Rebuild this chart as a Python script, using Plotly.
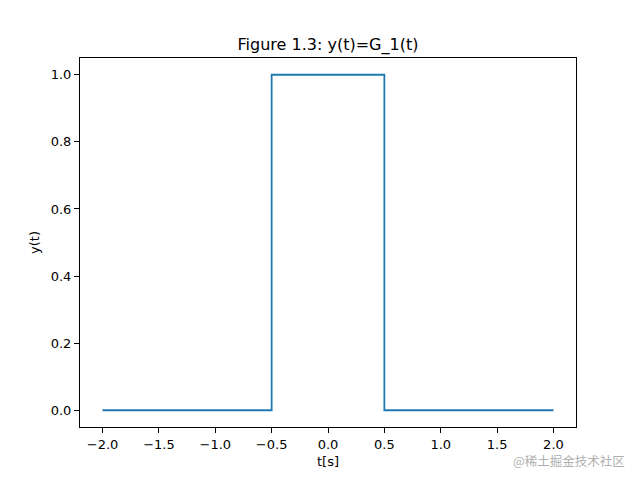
import plotly.graph_objects as go

t = [-2.0, -0.5, -0.5, 0.5, 0.5, 2.0]
y = [0, 0, 1, 1, 0, 0]

x_ticks = [-2.0, -1.5, -1.0, -0.5, 0.0, 0.5, 1.0, 1.5, 2.0]
x_labels = ["\u22122.0", "\u22121.5", "\u22121.0", "\u22120.5", "0.0", "0.5", "1.0", "1.5", "2.0"]
y_ticks = [0.0, 0.2, 0.4, 0.6, 0.8, 1.0]
y_labels = ["0.0", "0.2", "0.4", "0.6", "0.8", "1.0"]

fig = go.Figure()
fig.add_trace(go.Scatter(x=t, y=y, mode="lines",
                         line=dict(color="#1f77b4", width=1.8, shape="linear")))

axis_common = dict(showgrid=False, zeroline=False, showline=True, linecolor="black",
                   linewidth=1, mirror=True, ticks="outside", ticklen=5, tickwidth=1,
                   tickcolor="black", tickfont=dict(family="DejaVu Sans", size=13, color="black"))

# page body has an 8px margin, so the figure is sized/positioned to compensate
fig.update_layout(
    width=632, height=472,
    margin=dict(l=72, r=64, t=50, b=53),
    paper_bgcolor="white", plot_bgcolor="white",
    showlegend=False,
    title=dict(text="Figure 1.3: y(t)=G_1(t)", x=(328 - 8) / 632, xanchor="center", y=1 - 36/472,
               yanchor="middle", font=dict(family="DejaVu Sans", size=16, color="black")),
    xaxis=dict(range=[-2.2, 2.2], tickvals=x_ticks, ticktext=x_labels,
               title=dict(text="t[s]", font=dict(family="DejaVu Sans", size=13, color="black"), standoff=6),
               **axis_common),
    yaxis=dict(range=[-0.05, 1.05], tickvals=y_ticks, ticktext=y_labels,
               title=dict(text="y(t)", font=dict(family="DejaVu Sans", size=13, color="black"), standoff=8),
               **axis_common),
)

fig.add_annotation(text="@稀土掘金技术社区", xref="paper", yref="paper",
                   x=(626 - 80) / 496, y=-(460 - 427) / 369, xanchor="right", yanchor="middle",
                   borderpad=0, showarrow=False,
                   font=dict(family="Noto Sans CJK SC", size=12.5, color="#b0b0b0"))

fig.write_html("out.html")
